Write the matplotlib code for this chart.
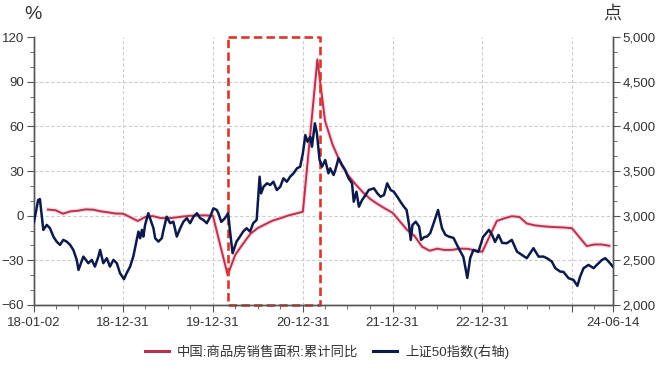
import matplotlib
matplotlib.use("Agg")
import matplotlib.pyplot as plt
import matplotlib.dates as mdates
from matplotlib.ticker import MultipleLocator, FixedLocator, FuncFormatter
import pandas as pd

plt.rcParams['font.family'] = ['Liberation Sans', 'Noto Sans CJK SC', 'DejaVu Sans']

# 中国:商品房销售面积:累计同比 (%), 月度
sales_dates = ["2018-02-28", "2018-03-31", "2018-04-30", "2018-05-31", "2018-06-30", "2018-07-31",
               "2018-08-31", "2018-09-30", "2018-10-31", "2018-11-30", "2018-12-31",
               "2019-02-28", "2019-03-31", "2019-04-30", "2019-05-31", "2019-06-30", "2019-07-31",
               "2019-08-31", "2019-09-30", "2019-10-31", "2019-11-30", "2019-12-31",
               "2020-02-29", "2020-03-31", "2020-04-30", "2020-05-31", "2020-06-30", "2020-07-31",
               "2020-08-31", "2020-09-30", "2020-10-31", "2020-11-30", "2020-12-31",
               "2021-02-28", "2021-03-31", "2021-04-30", "2021-05-31", "2021-06-30", "2021-07-31",
               "2021-08-31", "2021-09-30", "2021-10-31", "2021-11-30", "2021-12-31",
               "2022-02-28", "2022-03-31", "2022-04-30", "2022-05-31", "2022-06-30", "2022-07-31",
               "2022-08-31", "2022-09-30", "2022-10-31", "2022-11-30", "2022-12-31",
               "2023-02-28", "2023-03-31", "2023-04-30", "2023-05-31", "2023-06-30", "2023-07-31",
               "2023-08-31", "2023-09-30", "2023-10-31", "2023-11-30", "2023-12-31",
               "2024-02-29", "2024-03-31", "2024-04-30", "2024-05-31"]
sales_yoy = [4.1, 3.6, 1.3, 2.9, 3.3, 4.2, 4.0, 2.9, 2.2, 1.4, 1.3,
             -3.6, -0.9, -0.3, -1.6, -1.8, -1.3, -0.6, -0.1, 0.1, 0.2, -0.1,
             -39.9, -26.3, -19.3, -12.3, -8.4, -5.8, -3.3, -1.8, 0.0, 1.3, 2.6,
             104.9, 63.8, 48.1, 36.3, 27.7, 21.5, 15.9, 11.3, 7.8, 4.8, 1.9,
             -9.6, -13.8, -20.9, -23.6, -22.2, -23.1, -23.0, -22.2, -22.3, -23.3, -24.3,
             -3.6, -1.8, -0.4, -0.9, -5.3, -6.5, -7.1, -7.5, -7.8, -8.0, -8.5,
             -20.5, -19.4, -19.4, -20.3]

# 上证50指数 (点), 右轴
sse_dates = ["2018-01-02", "2018-01-19", "2018-01-26", "2018-02-09", "2018-02-23", "2018-03-08",
             "2018-03-22", "2018-04-04", "2018-04-18", "2018-05-01", "2018-05-15", "2018-05-29",
             "2018-06-11", "2018-06-25", "2018-07-02", "2018-07-22", "2018-08-11", "2018-08-25",
             "2018-09-07", "2018-09-21", "2018-09-28", "2018-10-11", "2018-10-25", "2018-11-07",
             "2018-11-21", "2018-12-05", "2018-12-18", "2019-01-03", "2019-01-14", "2019-01-28",
             "2019-02-10", "2019-02-24", "2019-03-03", "2019-03-10", "2019-03-17", "2019-03-23",
             "2019-03-30", "2019-04-12", "2019-04-19", "2019-05-03", "2019-05-10", "2019-05-23",
             "2019-06-06", "2019-06-13", "2019-06-26", "2019-07-10", "2019-07-23", "2019-08-06",
             "2019-08-20", "2019-09-02", "2019-09-16", "2019-09-29", "2019-10-13", "2019-10-27",
             "2019-11-09", "2019-11-22", "2019-12-06", "2019-12-20", "2020-01-02", "2020-01-16",
             "2020-01-22", "2020-02-03", "2020-02-18", "2020-03-02", "2020-03-09", "2020-03-20",
             "2020-04-05", "2020-04-19", "2020-05-02", "2020-05-16", "2020-05-30", "2020-06-12",
             "2020-06-26", "2020-07-08", "2020-07-14", "2020-07-24", "2020-08-07", "2020-08-20",
             "2020-09-02", "2020-09-16", "2020-09-30", "2020-10-13", "2020-10-27", "2020-11-09",
             "2020-11-23", "2020-12-07", "2020-12-20", "2020-12-31", "2021-01-10", "2021-01-19",
             "2021-01-30", "2021-02-06", "2021-02-18", "2021-02-26", "2021-03-09", "2021-03-19",
             "2021-04-01", "2021-04-14", "2021-04-21", "2021-05-05", "2021-05-12", "2021-05-25",
             "2021-06-08", "2021-06-21", "2021-07-05", "2021-07-19", "2021-07-26", "2021-08-06",
             "2021-08-16", "2021-08-29", "2021-09-12", "2021-09-25", "2021-10-16", "2021-10-30",
             "2021-11-12", "2021-11-26", "2021-12-09", "2021-12-23", "2022-01-05", "2022-01-19",
             "2022-02-01", "2022-02-15", "2022-02-26", "2022-03-07", "2022-03-15", "2022-03-22",
             "2022-04-04", "2022-04-18", "2022-04-26", "2022-05-09", "2022-05-20", "2022-06-02",
             "2022-06-16", "2022-07-04", "2022-07-20", "2022-08-03", "2022-08-17", "2022-09-05",
             "2022-09-25", "2022-10-15", "2022-10-31", "2022-11-12", "2022-11-25", "2022-12-15",
             "2023-01-03", "2023-01-27", "2023-02-09", "2023-02-21", "2023-03-07", "2023-03-22",
             "2023-04-10", "2023-04-30", "2023-05-21", "2023-06-10", "2023-06-30", "2023-07-27",
             "2023-08-17", "2023-09-06", "2023-09-20", "2023-10-10", "2023-10-24", "2023-11-13",
             "2023-11-26", "2023-12-17", "2024-01-06", "2024-01-22", "2024-02-02", "2024-02-16",
             "2024-03-07", "2024-03-28", "2024-04-10", "2024-05-01", "2024-05-14", "2024-05-28",
             "2024-06-14"]
sse_close = [2930, 3175, 3185, 2840, 2896, 2859,
             2765, 2709, 2672, 2728, 2709, 2672,
             2616, 2504, 2392, 2541, 2467, 2504,
             2429, 2541, 2616, 2467, 2523, 2429,
             2504, 2467, 2355, 2288, 2355, 2429,
             2541, 2728, 2821, 2747, 2840, 2765,
             2896, 3027, 2971, 2859, 2747, 2709,
             2747, 2840, 2988, 2915, 2932, 2765,
             2859, 2932, 2971, 2915, 2988, 3027,
             2971, 2952, 2915, 2988, 3082, 3063,
             3027, 2930, 2971, 3027, 2840, 2579,
             2709, 2765, 2821, 2859, 2821, 2915,
             2952, 3436, 3250, 3324, 3362, 3343,
             3380, 3287, 3324, 3418, 3380, 3436,
             3474, 3530, 3548, 3698, 3903, 3828,
             3884, 3772, 4034, 3922, 3623, 3548,
             3623, 3474, 3530, 3455, 3511, 3642,
             3567, 3511, 3418, 3362, 3156, 3268,
             3100, 3175, 3231, 3287, 3306, 3250,
             3212, 3231, 3362, 3287, 3268, 3212,
             3156, 3100, 3063, 2915, 2728, 2896,
             2932, 2877, 2728, 2760, 2765, 2803,
             2915, 3063, 2859, 2784, 2765, 2750,
             2638, 2537, 2302, 2527, 2616, 2593,
             2761, 2840, 2784, 2705, 2784, 2694,
             2691, 2728, 2597, 2560, 2523, 2635,
             2541, 2541, 2523, 2485, 2411, 2373,
             2370, 2299, 2280, 2213, 2317, 2411,
             2448, 2411, 2448, 2504, 2523, 2485,
             2429]

tick_dates = ["2018-01-02", "2018-12-31", "2019-12-31", "2020-12-31", "2021-12-31",
              "2022-12-31", "2023-12-31", "2024-06-14"]
tick_labels = ["18-01-02", "18-12-31", "19-12-31", "20-12-31", "21-12-31",
               "22-12-31", "", "24-06-14"]

box_start, box_end = "2020-03-01", "2021-03-12"

red = '#b83250'
navy = '#0c1a4b'
axis_c = '#555555'
text_c = '#333333'

fig = plt.figure(figsize=(6.6, 3.75), dpi=100)
ax = fig.add_axes([0.0515, 0.187, 0.877, 0.714])
ax2 = ax.twinx()

sd = pd.to_datetime(sales_dates)
xd = pd.to_datetime(sse_dates)

ax.plot(sd, sales_yoy, color='#f4b6c4', lw=3.2, alpha=0.5, zorder=2)
ax.plot(sd, sales_yoy, color=red, lw=1.4, zorder=3)
ax2.plot(xd, sse_close, color=navy, lw=1.8, zorder=3)

ax.set_ylim(-60, 120)
ax2.set_ylim(2000, 5000)
ax.set_xlim(pd.Timestamp(tick_dates[0]), pd.Timestamp(tick_dates[-1]))

ax.yaxis.set_major_locator(MultipleLocator(30))
ax.yaxis.set_minor_locator(MultipleLocator(10))
ax2.yaxis.set_major_locator(MultipleLocator(500))
ax2.yaxis.set_minor_locator(MultipleLocator(500 / 3))
ax2.yaxis.set_major_formatter(FuncFormatter(lambda v, p: f"{int(v):,}"))

tpos = [mdates.date2num(pd.Timestamp(t)) for t in tick_dates]
ax.xaxis.set_major_locator(FixedLocator(tpos))
ax.set_xticklabels(tick_labels)
qpos = [mdates.date2num(d) for d in pd.date_range("2018-03-31", "2024-06-14", freq="QE")
        if d.month != 12]
ax.xaxis.set_minor_locator(FixedLocator(qpos))

# grid
for t in tpos[1:-1]:
    ax.axvline(t, color='#cccccc', lw=0.8, ls=(0, (3, 2)), zorder=1)
for v in [90, 60, 30, 0, -30]:
    ax.axhline(v, color='#cccccc', lw=0.8, ls=(0, (3, 2)), zorder=1)

for a in (ax, ax2):
    a.spines['top'].set_visible(False)
    for s in ('left', 'right', 'bottom'):
        a.spines[s].set_color(axis_c)
        a.spines[s].set_linewidth(1.0)
    a.tick_params(which='major', length=5, color=axis_c, labelsize=9.5, labelcolor=text_c, pad=2)
    a.tick_params(which='minor', length=3, color=axis_c)
ax.tick_params(axis='x', which='major', pad=4)

# dashed highlight box
b0, b1 = pd.Timestamp(box_start), pd.Timestamp(box_end)
ax.plot([b0, b1, b1, b0, b0], [120, 120, -60, -60, 120], color='#d8382c', lw=1.9,
        ls=(0, (3.2, 1.6)), clip_on=False, zorder=5)

fig.text(0.05, 0.962, '%', ha='center', va='center', fontsize=14, color=text_c)
fig.text(0.928, 0.965, '点', ha='center', va='center', fontsize=13, color=text_c,
         family=['Noto Sans CJK SC'])

h1, = ax.plot([], [], color=red, lw=2.2)
h2, = ax.plot([], [], color=navy, lw=2.2)
fig.legend([h1, h2], ['中国:商品房销售面积:累计同比', '上证50指数(右轴)'],
           loc='center', bbox_to_anchor=(0.496, 0.062), ncol=2, frameon=False,
           fontsize=9.6, handlelength=1.8, columnspacing=1.1, handletextpad=0.6,
           labelcolor=text_c)

fig.savefig("out.png", dpi=100)
